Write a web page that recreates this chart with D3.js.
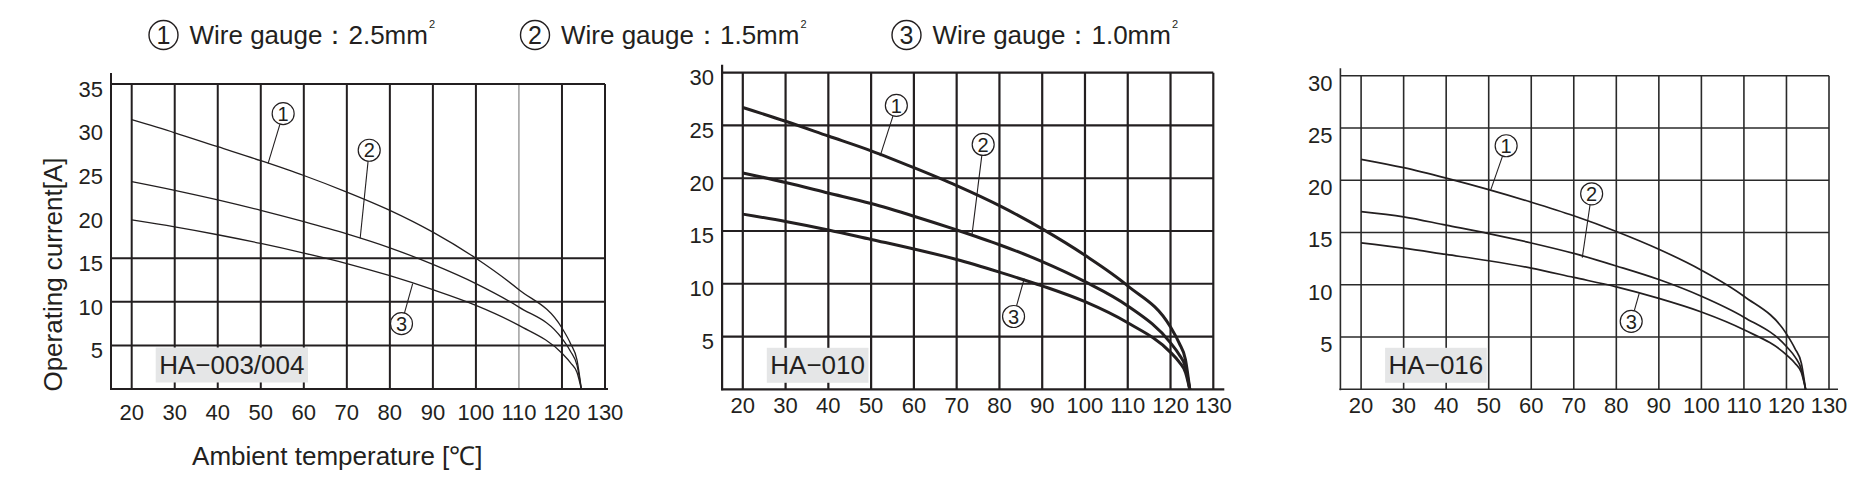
<!DOCTYPE html>
<html><head><meta charset="utf-8">
<script src="https://cdn.jsdelivr.net/npm/d3@7"></script>
<style>
body{margin:0;background:#fff}
svg{display:block}
text{font-family:"Liberation Sans", Arial, Helvetica, sans-serif; fill:#231f20}
</style>
</head><body>
<svg id="c" width="1858" height="489"></svg>
<script>
// ---------- data ----------
const temps = [20,30,40,50,60,70,80,90,100,110,120,122,123.5,124.5];
const xTicks = [20,30,40,50,60,70,80,90,100,110,120,130];
const yTicksA = [5,10,15,20,25,30,35];
const yGridA = [5,10,15,35];
const yTicksB = [5,10,15,20,25,30];
const gaugeLabels = ["Wire gauge：2.5mm","Wire gauge：1.5mm","Wire gauge：1.0mm"];
const markerDigits = ["1","2","3"];
const chartNames = ["HA−003/004","HA−010","HA−016"];
const yTitle = "Operating current[A]";
const xTitle = "Ambient temperature [℃]";

// HA-003/004
const ha003_25 = [30.9,29.4,27.8,26.2,24.5,22.6,20.5,18.0,15.0,11.4,7.0,5.2,3.3,0];
const ha003_15 = [23.8,22.8,21.7,20.5,19.2,17.8,16.2,14.3,12.1,9.4,5.8,4.3,2.7,0];
const ha003_10 = [19.4,18.6,17.7,16.7,15.6,14.4,13.0,11.4,9.6,7.3,4.1,3.0,1.9,0];
// HA-010
const ha010_25 = [26.7,25.4,24.0,22.6,21.0,19.3,17.4,15.2,12.7,9.8,5.9,4.4,2.8,0];
const ha010_15 = [20.5,19.6,18.6,17.6,16.4,15.1,13.7,12.1,10.2,7.9,4.4,3.3,2.1,0];
const ha010_10 = [16.6,15.9,15.1,14.2,13.3,12.3,11.1,9.8,8.3,6.3,3.5,2.6,1.6,0];
// HA-016
const ha016_25 = [22.0,21.2,20.2,19.1,17.9,16.6,15.1,13.4,11.4,8.9,5.3,3.9,2.5,0];
const ha016_15 = [17.0,16.5,15.7,14.9,14.0,13.0,11.8,10.5,8.9,6.9,4.1,3.1,1.9,0];
const ha016_10 = [14.0,13.5,12.9,12.3,11.6,10.7,9.8,8.7,7.4,5.7,3.3,2.5,1.6,0];

// annotation anchors in data units: [circleX, circleY, pointerX, pointerY]
const notes003 = [[55.2,31.6,51.7,25.9],[75.2,27.4,73.1,17.3],[82.7,7.5,85.3,12.1]];
const notes010 = [[55.9,26.9,52.1,22.1],[76.2,23.2,73.6,14.7],[83.3,6.9,85.8,10.5]];
const notes016 = [[54.1,23.3,50.5,19.1],[74.2,18.7,72.0,12.6],[83.5,6.5,85.4,9.2]];

// ---------- layout / style ----------
const charts = [
  {name:chartNames[0], series:[ha003_25,ha003_15,ha003_10], notes:notes003,
   yMax:35, yTicks:yTicksA, yGrid:yGridA,
   xr:[131.7,605], yr:[389,84], gridW:2, curveW:1.3, grid:"#231f20",
   thin:110, axTop:11, axRight:3, xLabDy:31, yLabOff:5, titles:true},
  {name:chartNames[1], series:[ha010_25,ha010_15,ha010_10], notes:notes010,
   yMax:30, yTicks:yTicksB, yGrid:yTicksB,
   xr:[742.8,1213.3], yr:[389.3,72.7], gridW:2.2, curveW:3, grid:"#231f20",
   thin:null, axTop:8, axRight:11, xLabDy:24, yLabOff:4.5, titles:false},
  {name:chartNames[2], series:[ha016_25,ha016_15,ha016_10], notes:notes016,
   yMax:30, yTicks:yTicksB, yGrid:yTicksB,
   xr:[1361.1,1829], yr:[389.3,75.7], gridW:1.6, curveW:1.7, grid:"#2a2a2a",
   thin:null, axTop:7.5, axRight:9, xLabDy:24, yLabOff:7, titles:false}
];

const svg = d3.select("#c");
svg.append("rect").attr("width",1858).attr("height",489).attr("fill","#fff");

charts.forEach(cfg => {
  const g = svg.append("g");
  const x = d3.scaleLinear().domain([20,130]).range(cfg.xr);
  const y = d3.scaleLinear().domain([0,cfg.yMax]).range(cfg.yr);
  const axisX = x(20) - 20.7;

  // vertical grid
  g.selectAll(".vg").data(xTicks).join("line")
    .attr("x1",d=>x(d)).attr("x2",d=>x(d))
    .attr("y1",y(0)).attr("y2",y(cfg.yMax))
    .attr("stroke",d=>d===cfg.thin?"#6d6d6d":cfg.grid)
    .attr("stroke-width",d=>d===cfg.thin?1:cfg.gridW);
  // horizontal grid
  g.selectAll(".hg").data(cfg.yGrid).join("line")
    .attr("x1",axisX).attr("x2",x(130))
    .attr("y1",d=>y(d)).attr("y2",d=>y(d))
    .attr("stroke",cfg.grid).attr("stroke-width",cfg.gridW);
  // axes
  g.append("line").attr("x1",axisX).attr("x2",axisX)
    .attr("y1",y(0)+1).attr("y2",y(cfg.yMax)-cfg.axTop)
    .attr("stroke",cfg.grid).attr("stroke-width",cfg.gridW);
  g.append("line").attr("x1",axisX-1).attr("x2",x(130)+cfg.axRight)
    .attr("y1",y(0)).attr("y2",y(0))
    .attr("stroke",cfg.grid).attr("stroke-width",cfg.gridW);

  // tick labels
  g.selectAll(".xt").data(xTicks).join("text")
    .attr("x",d=>x(d)).attr("y",y(0)+cfg.xLabDy)
    .attr("text-anchor","middle").attr("font-size",22).text(d=>d);
  g.selectAll(".yt").data(cfg.yTicks).join("text")
    .attr("x",axisX-8).attr("y",d=>y(d)+cfg.yLabOff).attr("dy","0.36em")
    .attr("text-anchor","end").attr("font-size",22).text(d=>d);

  // name box
  const nb = g.append("g");
  const nt = nb.append("text").attr("x",x(20)+27.5).attr("y",y(0)-15)
    .attr("font-size",26).attr("fill","#333").text(cfg.name);
  const bb = nt.node().getBBox();
  nb.insert("rect","text").attr("x",bb.x-3.5).attr("y",y(0)-41.5)
    .attr("width",bb.width+7).attr("height",35).attr("fill","#e5e6e7");

  // curves
  const line = d3.line().x(d=>x(d[0])).y(d=>y(d[1])).curve(d3.curveMonotoneX);
  cfg.series.forEach(s => {
    g.append("path").datum(temps.map((t,i)=>[t,s[i]]))
      .attr("d",line).attr("fill","none")
      .attr("stroke","#231f20").attr("stroke-width",cfg.curveW)
      .attr("stroke-linejoin","round");
  });

  // circled markers + leaders
  cfg.notes.forEach((n,i) => {
    const cx = x(n[0]), cy = y(n[1]), px = x(n[2]), py = y(n[3]);
    const r = 11;
    const dx = px-cx, dy = py-cy, L = Math.hypot(dx,dy);
    g.append("line").attr("x1",cx+dx/L*r).attr("y1",cy+dy/L*r)
      .attr("x2",px).attr("y2",py).attr("stroke","#231f20").attr("stroke-width",1.1);
    g.append("circle").attr("cx",cx).attr("cy",cy).attr("r",r)
      .attr("fill","#fff").attr("stroke","#231f20").attr("stroke-width",1.2);
    g.append("text").attr("x",cx).attr("y",cy).attr("dy","0.36em")
      .attr("text-anchor","middle").attr("font-size",20).text(markerDigits[i]);
  });

  if (cfg.titles) {
    g.append("text").attr("transform",`translate(61.5,${(y(0)+y(cfg.yMax))/2+38}) rotate(-90)`)
      .attr("text-anchor","middle").attr("font-size",26).attr("fill","#333").text(yTitle);
    g.append("text").attr("x",(x(20)+x(130))/2-31).attr("y",465)
      .attr("text-anchor","middle").attr("font-size",26).attr("fill","#333").text(xTitle);
  }
});

// legend
const lg = svg.append("g");
gaugeLabels.forEach((lab,i) => {
  const cx = 163.5 + i*371.5, cy = 35;
  lg.append("circle").attr("cx",cx).attr("cy",cy).attr("r",14.5)
    .attr("fill","none").attr("stroke","#231f20").attr("stroke-width",1.4);
  lg.append("text").attr("x",cx).attr("y",cy).attr("dy","0.36em")
    .attr("text-anchor","middle").attr("font-size",25).text(markerDigits[i]);
  const t = lg.append("text").attr("x",cx+26).attr("y",43.5)
    .attr("font-size",26).attr("fill","#333");
  t.append("tspan").text(lab);
  t.append("tspan").attr("font-size",11).attr("dy",-16).attr("dx",1).text("2");
});
</script>
</body></html>
